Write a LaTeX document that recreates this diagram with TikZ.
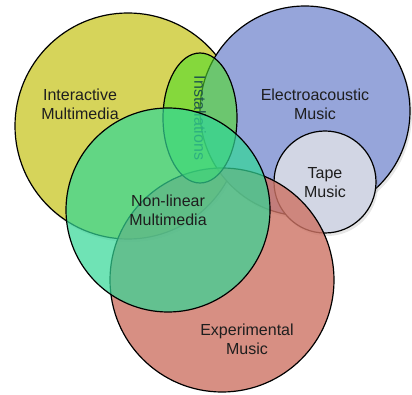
\documentclass[tikz,border=0pt]{standalone}
\usepackage{fontspec}
\setmainfont{Liberation Sans}
\usetikzlibrary{shapes.geometric,shadows}

\definecolor{imyellow}{RGB}{214,212,90}
\definecolor{eablue}{RGB}{150,165,218}
\definecolor{tapegrey}{RGB}{210,214,228}
\definecolor{expred}{RGB}{205,115,100}
\definecolor{nlgreen}{RGB}{50,215,150}
\definecolor{instgreen}{RGB}{80,220,40}
\definecolor{labeltext}{RGB}{30,30,30}
\definecolor{insttext}{RGB}{30,85,75}

\begin{document}
\begin{tikzpicture}[x=1pt, y=-1pt, line width=1.2pt,
    set/.style = {draw, circle, inner sep=0pt, outer sep=0pt},
    shade/.style = {drop shadow={opacity=0.2, shadow xshift=2pt, shadow yshift=-3pt}},
    label/.style = {align=center, text=labeltext, font=\fontsize{16}{19}\selectfont}]
    \useasboundingbox (0,0) rectangle (412,395);
    % the sets
    \node[set, shade, minimum size=226pt, fill=imyellow] (interactive) at (128,126) {};
    \node[set, shade, minimum size=210pt, fill=eablue] (electro) at (305,111) {};
    \node[set, shade, minimum size=102pt, fill=tapegrey] (tape) at (325,182) {};
    \node[set, minimum size=224pt, fill=expred, fill opacity=0.8] (experimental) at (222,280) {};
    \node[draw, ellipse, inner sep=0pt, minimum width=74pt, minimum height=130pt,
          fill=instgreen, fill opacity=0.6] (installations) at (200,118) {};
    \node[text=insttext, rotate=-90, font=\fontsize{16}{19}\selectfont] (installtext) at (200,118) {Installations};
    \node[set, minimum size=204pt, fill=nlgreen, fill opacity=0.7] (nonlinear) at (168,210) {};
    % the labels
    \node[label] (imtext) at (80,104) {Interactive\\Multimedia};
    \node[label] (eatext) at (315,104) {Electroacoustic\\Music};
    \node[label] (tapetext) at (325,183) {Tape\\Music};
    \node[label] (nltext) at (168,210) {Non-linear\\Multimedia};
    \node[label] (exptext) at (247,339) {Experimental\\Music};
\end{tikzpicture}
\end{document}
